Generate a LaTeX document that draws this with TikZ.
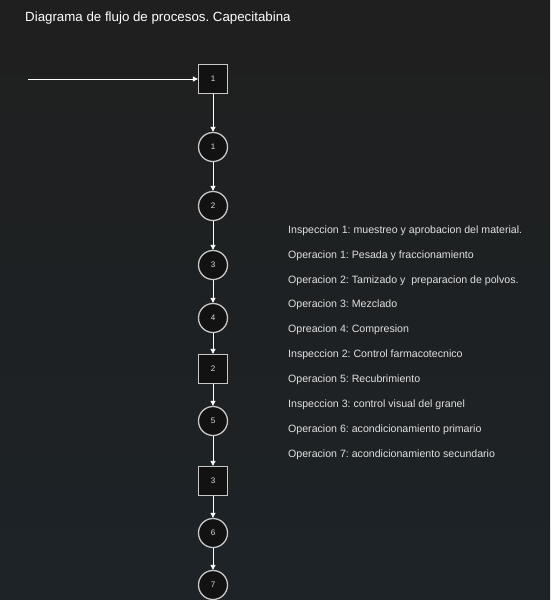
\documentclass[tikz,border=0pt]{standalone}
\usepackage{fontspec}
\setmainfont{Liberation Sans}
\frenchspacing
\usetikzlibrary{arrows.meta}
\definecolor{bgtop}{HTML}{1F1F1F}
\definecolor{bgbot}{HTML}{1D2327}
\definecolor{shapefill}{HTML}{121212}
\definecolor{shapeline}{HTML}{C8C8C8}
\definecolor{txt}{HTML}{E0E0E0}
\tikzset{
  opcircle/.style={circle, draw=shapeline, fill=shapefill, line width=1.3pt, minimum size=29pt, inner sep=0pt, text=txt, font=\fontsize{8}{9}\selectfont},
  inspbox/.style={rectangle, draw=shapeline, fill=shapefill, line width=1.3pt, minimum size=29pt, inner sep=0pt, text=txt, font=\fontsize{8}{9}\selectfont},
  flow/.style={draw=white, line width=0.7pt, -{Triangle[length=5pt,width=5pt]}},
  legend/.style={anchor=base west, inner sep=0pt, text=txt, font=\fontsize{10.6}{12}\selectfont},
}
\begin{document}
\begin{tikzpicture}[x=1pt,y=-1pt]
\shade[top color=bgtop, bottom color=bgbot] (0,0) rectangle (550,600);
\useasboundingbox (0,0) rectangle (550,600);
\node[anchor=base west, inner sep=0pt, text=white, font=\fontsize{13.3}{15}\selectfont] (title) at (25,21.5) {Diagrama de flujo de procesos. Capecitabina};
\coordinate (start) at (28,79);
\node[inspbox] (i1) at (213,79) {1};
\node[opcircle] (o1) at (213,147) {1};
\node[opcircle] (o2) at (213,206) {2};
\node[opcircle] (o3) at (213,265) {3};
\node[opcircle] (o4) at (213,318) {4};
\node[inspbox] (i2) at (213,369) {2};
\node[opcircle] (o5) at (213,421) {5};
\node[inspbox] (i3) at (213,481) {3};
\node[opcircle] (o6) at (213,533) {6};
\node[opcircle] (o7) at (213,585) {7};
\draw[flow] (start) -- (i1);
\draw[flow] (i1) -- (o1);
\draw[flow] (o1) -- (o2);
\draw[flow] (o2) -- (o3);
\draw[flow] (o3) -- (o4);
\draw[flow] (o4) -- (i2);
\draw[flow] (i2) -- (o5);
\draw[flow] (o5) -- (i3);
\draw[flow] (i3) -- (o6);
\draw[flow] (o6) -- (o7);
\node[legend] (l1) at (288,233.8) {Inspeccion 1: muestreo y aprobacion del material.};
\node[legend] (l2) at (288,258.8) {Operacion 1: Pesada y fraccionamiento};
\node[legend] (l3) at (288,283.8) {Operacion 2: Tamizado y \ preparacion de polvos.};
\node[legend] (l4) at (288,307.8) {Operacion 3: Mezclado};
\node[legend] (l5) at (288,332.8) {Opreacion 4: Compresion};
\node[legend] (l6) at (288,357.8) {Inspeccion 2: Control farmacotecnico};
\node[legend] (l7) at (288,382.8) {Operacion 5: Recubrimiento};
\node[legend] (l8) at (288,407.8) {Inspeccion 3: control visual del granel};
\node[legend] (l9) at (288,432.8) {Operacion 6: acondicionamiento primario};
\node[legend] (l10) at (288,457.8) {Operacion 7: acondicionamiento secundario};
\end{tikzpicture}
\end{document}
